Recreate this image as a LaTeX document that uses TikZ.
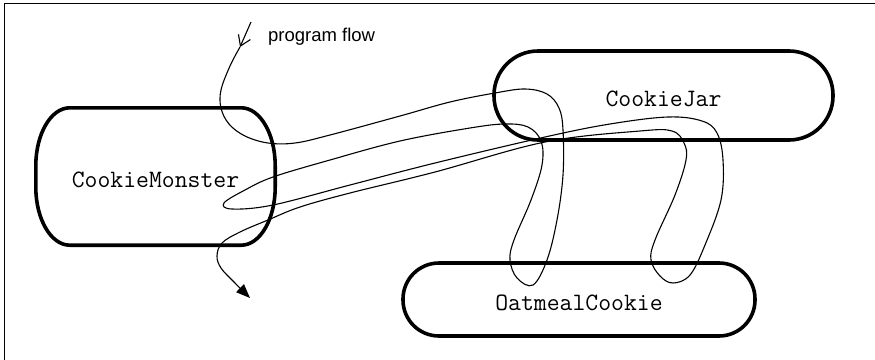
\documentclass[tikz,border=0pt]{standalone}
\usepackage{fontspec}
\setmainfont{Liberation Sans}
\usetikzlibrary{arrows.meta, positioning, calc}

\begin{document}
\begin{tikzpicture}[
    x=1pt, y=-1pt,
    >=Stealth,
    frame/.style={line width=1.3pt},
    classname/.style={inner sep=0pt, text height=21pt, text depth=0pt,
                      font=\ttfamily\fontsize{25}{29}\selectfont},
    border/.style={line width=3.6pt, line join=round},
    stadium/.style={classname, draw, border, rounded corners=#1},
    flow/.style={line width=1.1pt},
    flowlabel/.style={inner sep=0pt, font=\fontsize{18.5}{22}\selectfont}
  ]

  % Page and outer frame
  \clip (0,0) rectangle (875,359);
  \draw[frame] (4.5,3.5) rectangle (900,400);

  % Objects
  \node[stadium=44pt, minimum width=339pt, minimum height=89pt] (jar)
    at (663.5,95.5) {CookieJar};
  \node[stadium=36pt, minimum width=352pt, minimum height=73pt] (oatmeal)
    at (579,299.5) {OatmealCookie};
  \node[classname, minimum width=239pt, minimum height=137pt] (monster)
    at (155.5,176.5) {CookieMonster};

  % CookieMonster outline (oval corners)
  \draw[border] ([xshift=34pt]monster.north west) -- ([xshift=-34pt]monster.north east)
    arc[start angle=90, end angle=0, x radius=34pt, y radius=58pt]
    -- ([yshift=58pt]monster.south east)
    arc[start angle=0, end angle=-90, x radius=34pt, y radius=58pt]
    -- ([xshift=34pt]monster.south west)
    arc[start angle=270, end angle=180, x radius=34pt, y radius=58pt]
    -- ([yshift=-58pt]monster.north west)
    arc[start angle=180, end angle=90, x radius=34pt, y radius=58pt] -- cycle;

  % Program flow
  \coordinate (flowstart) at (251,22);
  \coordinate (flowtip) at (240,47);
  \coordinate (flowend) at (250,298);
  \node[flowlabel, anchor=base west] (flowlbl) at (268,41) {program flow};

  \draw[flow, -{Straight Barb[length=10pt,width=13pt]}] (flowstart) -- (flowtip);
  \draw[flow, -{Triangle[length=14pt,width=11pt]}] plot[smooth, tension=0.6]
    coordinates {(flowtip) (230,66) (221,90) (221,108) (229,124) (245,136)
      (268,143) (295,143) (330,135) (400,116) (450,102) (495,93) (525,89)
      (547,94) (559,108) (563,130) (563,175) (557,220) (547,260) (533,285)
      (517,278) (510,260) (514,240) (531,200) (542,165) (541,141) (528,127)
      (505,124) (470,128) (400,141) (330,160) (273,177) (245,190) (224,203)
      (232,209) (273,205) (350,185) (435,163) (545,137) (610,124) (668,117)
      (702,121) (717,133) (723,160) (721,200) (705,245) (690,275) (673,283)
      (660,276) (651,260) (655,240) (675,195) (686,160) (684,143) (672,131)
      (640,131) (545,142) (435,172) (350,193) (300,207) (268,220) (240,232)
      (222,243) (217,256) (221,268) (234,282) (flowend)};

\end{tikzpicture}
\end{document}
